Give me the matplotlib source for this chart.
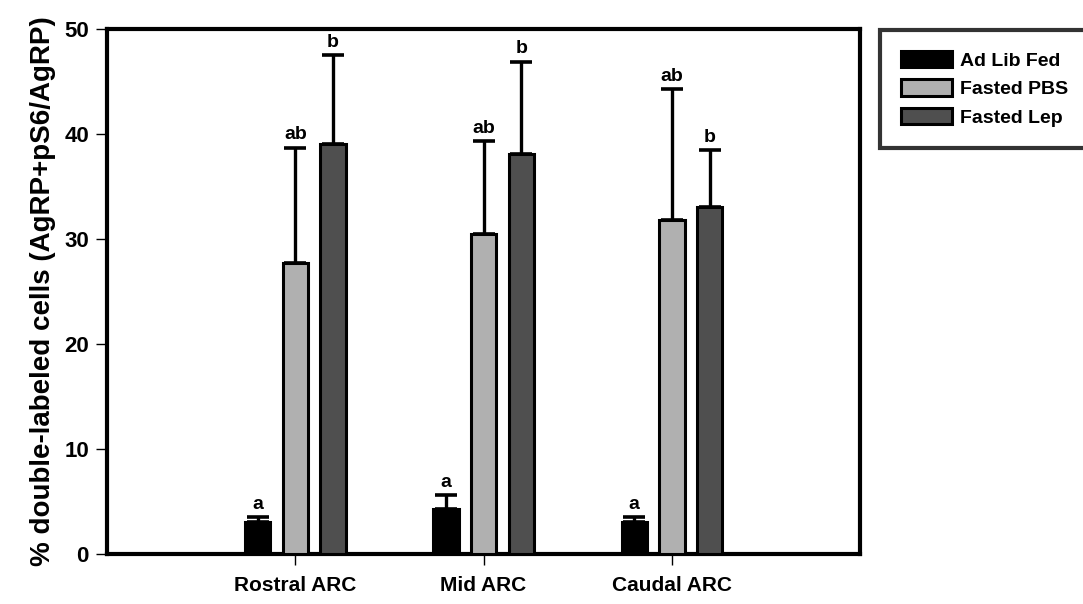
import matplotlib.pyplot as plt
import numpy as np

plt.rcParams['font.family'] = ['Liberation Sans', 'DejaVu Sans']
plt.rcParams['font.weight'] = 'bold'

regions = ['Rostral ARC', 'Mid ARC', 'Caudal ARC']
groups = ['Ad Lib Fed', 'Fasted PBS', 'Fasted Lep']
colors = ['#000000', '#b0b0b0', '#4f4f4f']

means = {
    'Ad Lib Fed': [3.0, 4.3, 3.0],
    'Fasted PBS': [27.7, 30.5, 31.8],
    'Fasted Lep': [39.0, 38.1, 33.0],
}
sem = {
    'Ad Lib Fed': [0.5, 1.3, 0.5],
    'Fasted PBS': [11.0, 8.8, 12.5],
    'Fasted Lep': [8.5, 8.8, 5.5],
}
letters = {
    'Ad Lib Fed': ['a', 'a', 'a'],
    'Fasted PBS': ['ab', 'ab', 'ab'],
    'Fasted Lep': ['b', 'b', 'b'],
}

fig = plt.figure(figsize=(10.83, 6.04), dpi=100)
ax = fig.add_axes([0.0988, 0.0828, 0.6955, 0.8692])

x = np.arange(1, len(regions) + 1)
width = 0.135
step = 0.2

for i, g in enumerate(groups):
    pos = x + (i - 1) * step
    ax.bar(pos, means[g], width, color=colors[i], edgecolor='black',
           linewidth=2.2, label=g, zorder=3)
    ax.errorbar(pos, means[g], yerr=[np.zeros(3), sem[g]], fmt='none',
                ecolor='black', elinewidth=2.4, capsize=8, capthick=2.6, zorder=2)
    for p, m, s, t in zip(pos, means[g], sem[g], letters[g]):
        ax.annotate(t, (p, m + s), xytext=(0, 3), textcoords='offset points',
                    ha='center', va='bottom', fontsize=14, fontweight='bold')

ax.set_xlim(0, 4)
ax.set_ylim(0, 50)
ax.set_xticks(x)
ax.set_xticklabels(regions, fontsize=15, fontweight='bold')
ax.set_yticks(np.arange(0, 51, 10))
ax.tick_params(axis='y', labelsize=16, direction='out', length=8, width=1, pad=5)
ax.tick_params(axis='x', direction='out', length=8, width=1, pad=8)
for lbl in ax.get_yticklabels():
    lbl.set_fontweight('bold')
ax.set_ylabel('% double-labeled cells (AgRP+pS6/AgRP)', fontsize=20,
              fontweight='bold', labelpad=6)
for sp in ax.spines.values():
    sp.set_linewidth(3)

leg = fig.legend(loc='upper left', bbox_to_anchor=(0.8126, 0.951), fontsize=14,
                 frameon=True, fancybox=False, edgecolor='black',
                 handlelength=2.6, handleheight=0.9, borderpad=1.1,
                 labelspacing=0.5, handletextpad=0.4, borderaxespad=0)
leg.get_frame().set_linewidth(3)
for t in leg.get_texts():
    t.set_fontweight('bold')

fig.savefig('out.png', dpi=100)
